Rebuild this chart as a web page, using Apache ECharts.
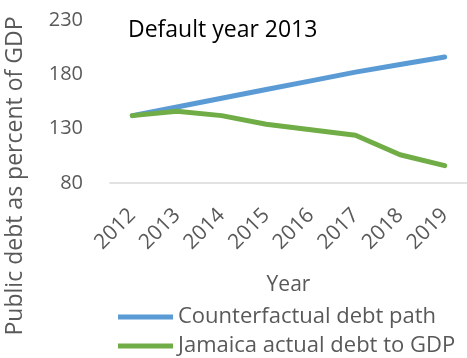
<!DOCTYPE html>
<html><head><meta charset="utf-8">
<script src="https://cdn.jsdelivr.net/npm/echarts@6/dist/echarts.min.js"></script>
<style>html,body{margin:0;padding:0;background:#fff}#c{width:467px;height:358px}</style>
</head><body><div id="c"></div>
<script>
var years = ['2012','2013','2014','2015','2016','2017','2018','2019'];
var counterfactual = [142, 150, 158, 166, 174, 182, 189, 196];
var actual = [142, 146, 142, 134, 129, 124, 106, 96];
var yTicks = [80, 130, 180, 230];
var seriesNames = ['Counterfactual debt path', 'Jamaica actual debt to GDP'];
var FONT = '"Open Sans", "Noto Sans", sans-serif';
var legendBase = {orient: 'vertical', left: 113, padding: 0, itemWidth: 55, itemHeight: 5, icon: 'rect',
  textStyle: {fontFamily: FONT, fontSize: 22, color: '#595959', lineHeight: 24}};
var chart = echarts.init(document.getElementById('c'), null, {renderer: 'canvas'});
chart.setOption({
  animation: false,
  title: {text: 'Default year 2013', left: 123, top: 14,
    textStyle: {fontFamily: FONT, fontSize: 23, fontWeight: 'normal', color: '#000'}},
  grid: {left: 110, top: 20, width: 360, height: 163},
  graphic: [{type: 'text', x: 15, y: 176, rotation: Math.PI / 2,
    style: {text: 'Public debt as percent of GDP', fontFamily: FONT, fontSize: 23, fill: '#595959',
      align: 'center', verticalAlign: 'middle'}}],
  legend: [
    Object.assign({}, legendBase, {top: 305, left: 118, data: [seriesNames[0]]}),
    Object.assign({}, legendBase, {top: 334, left: 118, data: [seriesNames[1]]})
  ],
  xAxis: {type: 'category', data: years, boundaryGap: true,
    name: 'Year', nameLocation: 'middle', nameGap: 92,
    nameTextStyle: {fontFamily: FONT, fontSize: 21, color: '#595959'},
    axisLine: {lineStyle: {color: '#d9d9d9', width: 1.5}},
    axisTick: {show: false},
    axisLabel: {rotate: 45, margin: 29, fontFamily: FONT, fontSize: 21, color: '#595959'}},
  yAxis: {type: 'value', min: yTicks[0], max: yTicks[yTicks.length - 1], interval: 50,
    splitLine: {show: false}, axisLine: {show: false}, axisTick: {show: false},
    axisLabel: {margin: 27, fontFamily: FONT, fontSize: 20, color: '#595959'}},
  series: [
    {name: seriesNames[0], type: 'line', data: counterfactual, symbol: 'none',
      lineStyle: {color: '#5B9BD5', width: 5, cap: 'round', join: 'round'}, itemStyle: {color: '#5B9BD5'}},
    {name: seriesNames[1], type: 'line', data: actual, symbol: 'none',
      lineStyle: {color: '#70AD47', width: 5, cap: 'round', join: 'round'}, itemStyle: {color: '#70AD47'}}
  ]
});
</script></body></html>
